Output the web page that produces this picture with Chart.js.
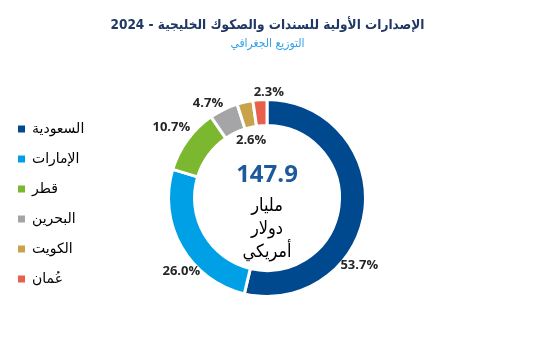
<!DOCTYPE html>
<html><head><meta charset="utf-8">
<script src="https://cdn.jsdelivr.net/npm/chart.js@4.4.1/dist/chart.umd.min.js"></script>
<style>html,body{margin:0;padding:0;background:#fff}canvas{display:block}</style>
</head><body>
<canvas id="c" width="533" height="356"></canvas>
<script>
// ---- data ----
const categories = ['السعودية', 'الإمارات', 'قطر', 'البحرين', 'الكويت', 'عُمان'];
const shares = [53.7, 26.0, 10.7, 4.7, 2.6, 2.3];
const totalValue = '147.9';
const centerLines = ['مليار', 'دولار', 'أمريكي'];
const titleText = 'الإصدارات الأولية للسندات والصكوك الخليجية - 2024';
const subtitleText = 'التوزيع الجغرافي';

// ---- styles ----
const colors = ['#00498F', '#00A0E6', '#7CB82F', '#A5A5A7', '#C9A34B', '#E8604C'];
const labelAngleOffset = [29.3, -10.8, 0.3, -5.7, -2.4, 5.1];
const labelRadiusFactor = [1.157, 1.147, 1.208, 1.137, 0.609, 1.076];
const arabicFont = "'DejaVu Sans', sans-serif";
const arabicCondensed = "'DejaVu Sans Condensed', 'DejaVu Sans', sans-serif";
const latinFont = "'Open Sans', 'DejaVu Sans', sans-serif";

// invisible layout boxes: balance the legend on the right, and a thin strip under the chart area
const spacers = {
  id: 'spacers',
  beforeInit(chart) {
    Chart.layouts.addBox(chart, {
      position: 'right', weight: 100, fullSize: false, options: {},
      left: 0, top: 0, right: 0, bottom: 0, width: 0, height: 0,
      isHorizontal() { return false; },
      update(maxWidth, maxHeight) {
        const lg = chart.legend;
        const padL = chart.options.layout.padding.left || 0;
        this.width = lg ? Math.max(lg.width + padL - 1, 0) : 0;
        this.height = maxHeight;
      },
      draw() {}
    });
    Chart.layouts.addBox(chart, {
      position: 'bottom', weight: 100, fullSize: false, options: {},
      left: 0, top: 0, right: 0, bottom: 0, width: 0, height: 0,
      isHorizontal() { return true; },
      update(maxWidth) { this.width = maxWidth; this.height = 4; },
      draw() {}
    });
  }
};

const sliceLabels = {
  id: 'sliceLabels',
  afterDatasetsDraw(chart) {
    const meta = chart.getDatasetMeta(0);
    const ctx = chart.ctx;
    ctx.save();
    ctx.textAlign = 'center';
    ctx.textBaseline = 'middle';
    ctx.font = 'bold 13px ' + latinFont;
    ctx.fillStyle = '#262626';
    let cx = 0, cy = 0;
    meta.data.forEach((arc, i) => {
      const p = arc.getProps(['x', 'y', 'startAngle', 'endAngle', 'outerRadius'], true);
      cx = p.x; cy = p.y;
      const a = (p.startAngle + p.endAngle) / 2 + labelAngleOffset[i] * Math.PI / 180;
      const r = p.outerRadius * labelRadiusFactor[i];
      ctx.fillText(shares[i].toFixed(1) + '%', p.x + r * Math.cos(a), p.y + r * Math.sin(a));
    });
    ctx.font = 'bold 24px ' + latinFont;
    ctx.fillStyle = '#1D5A9C';
    ctx.fillText(totalValue, cx, cy - 23);
    ctx.font = '18px ' + arabicCondensed;
    ctx.fillStyle = '#000';
    centerLines.forEach((t, i) => ctx.fillText(t, cx, cy + 8 + i * 23));
    ctx.restore();
  }
};

new Chart(document.getElementById('c'), {
  type: 'doughnut',
  data: {
    labels: categories,
    datasets: [{
      data: shares,
      backgroundColor: colors,
      borderColor: '#ffffff',
      borderWidth: 3
    }]
  },
  options: {
    responsive: false,
    animation: false,
    events: [],
    cutout: '73.6%',
    rotation: 0,
    layout: { padding: { top: 0, left: 2, right: 0, bottom: 54 } },
    plugins: {
      tooltip: { enabled: false },
      title: {
        display: true, text: titleText, color: '#1F3864',
        font: { size: 13.5, weight: 'bold', family: arabicCondensed, lineHeight: '18px' },
        padding: { top: 16, bottom: 0 }
      },
      subtitle: {
        display: true, text: subtitleText, color: '#35A3EC',
        font: { size: 12, family: arabicCondensed, lineHeight: '16px' },
        padding: { top: 2, bottom: 46 }
      },
      legend: {
        position: 'left', align: 'end', fullSize: true,
        labels: {
          boxWidth: 7, boxHeight: 7, padding: 16, color: '#000',
          font: { size: 14, family: arabicFont },
          generateLabels(chart) {
            const base = Chart.overrides.doughnut.plugins.legend.labels.generateLabels(chart);
            return base.map(l => Object.assign(l, { lineWidth: 0 }));
          }
        }
      }
    }
  },
  plugins: [spacers, sliceLabels]
});
</script>
</body></html>
